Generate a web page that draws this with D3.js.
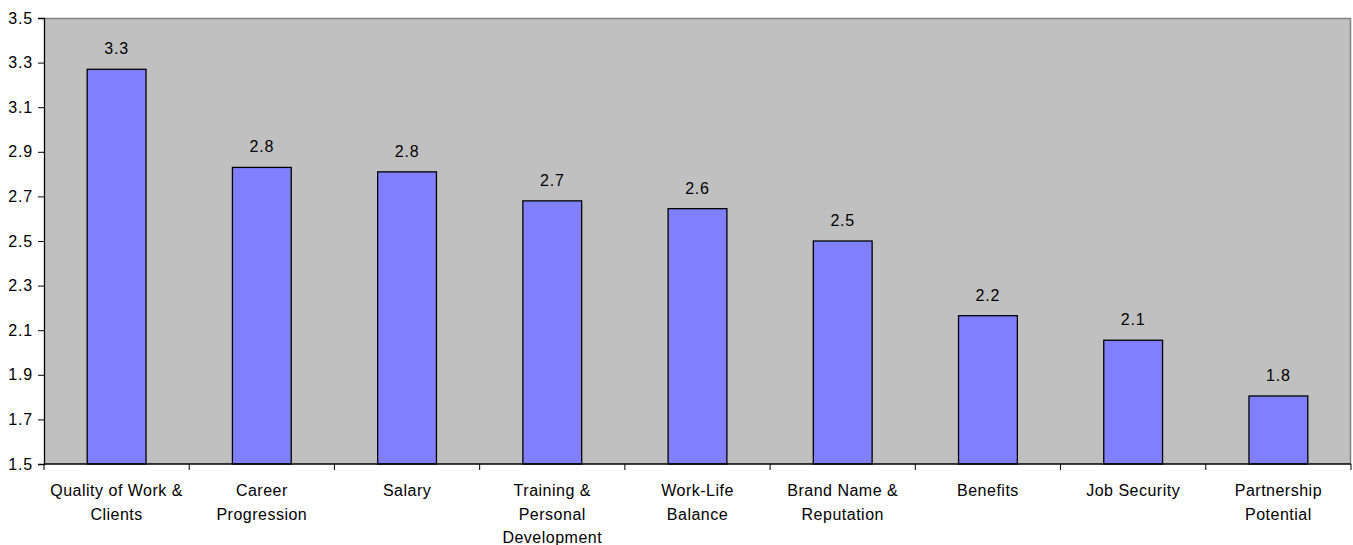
<!DOCTYPE html>
<html>
<head>
<meta charset="utf-8">
<script src="https://cdn.jsdelivr.net/npm/d3@7"></script>
<style>
  html, body { margin: 0; padding: 0; background: #fff; }
  text { font-family: "Liberation Sans", Arial, sans-serif; fill: #000; }
</style>
</head>
<body>
<svg id="chart" width="1353" height="545"></svg>
<script>
// Average rating per factor
const categories = [
  ["Quality of Work &", "Clients"],
  ["Career", "Progression"],
  ["Salary"],
  ["Training &", "Personal", "Development"],
  ["Work-Life", "Balance"],
  ["Brand Name &", "Reputation"],
  ["Benefits"],
  ["Job Security"],
  ["Partnership", "Potential"]
];
const values = [3.27, 2.83, 2.81, 2.68, 2.645, 2.50, 2.165, 2.055, 1.805];
const yTicks = [1.5, 1.7, 1.9, 2.1, 2.3, 2.5, 2.7, 2.9, 3.1, 3.3, 3.5];

const svg = d3.select("#chart");
const m = { left: 44, right: 1351, top: 18, bottom: 464 };
const FONT = 16;

const keys = categories.map((c, i) => i);
const x = d3.scaleBand().domain(keys).range([m.left, m.right]).paddingInner(0.595).paddingOuter(0.2975);
const y = d3.scaleLinear().domain([1.5, 3.5]).range([m.bottom, m.top]);
const fmt = d => (Math.round(d * 10 + 1e-9) / 10).toFixed(1);

// Plot area background
svg.append("rect")
  .attr("x", m.left).attr("y", m.top)
  .attr("width", m.right - m.left).attr("height", m.bottom - m.top)
  .attr("fill", "#c0c0c0");

// Top and right frame
svg.append("path")
  .attr("d", `M${m.left},${m.top + 0.5}H${m.right - 0.5}V${m.bottom}`)
  .attr("fill", "none").attr("stroke", "#808080").attr("stroke-width", 1.5);

// Bars
svg.append("g").selectAll("rect")
  .data(values)
  .join("rect")
  .attr("x", (d, i) => x(i))
  .attr("y", d => y(d))
  .attr("width", x.bandwidth())
  .attr("height", d => y(1.5) - y(d))
  .attr("fill", "#8080ff")
  .attr("stroke", "#000")
  .attr("stroke-width", 1.3);

// Value labels
svg.append("g").selectAll("text")
  .data(values)
  .join("text")
  .attr("x", (d, i) => x(i) + x.bandwidth() / 2)
  .attr("y", d => y(d) - 15)
  .attr("text-anchor", "middle")
  .attr("font-size", FONT)
  .attr("letter-spacing", 0.8)
  .text(d => fmt(d));

// Y axis
const yAxis = svg.append("g")
  .attr("transform", `translate(${m.left},0)`)
  .call(d3.axisLeft(y).tickValues(yTicks).tickFormat(d3.format(".1f")).tickSize(6).tickPadding(5));
yAxis.select(".domain").attr("stroke", "#000").attr("stroke-width", 1.3);
yAxis.selectAll(".tick line").attr("stroke", "#000");
yAxis.selectAll(".tick text")
  .attr("font-size", FONT)
  .attr("letter-spacing", 0.8)
  .attr("font-family", "Liberation Sans, Arial, sans-serif")
  .attr("fill", "#000");

// X axis: ticks at category boundaries
const bounds = d3.range(categories.length + 1).map(i => m.left + i * (m.right - m.left) / categories.length);
svg.append("line")
  .attr("x1", m.left).attr("x2", m.right)
  .attr("y1", m.bottom).attr("y2", m.bottom)
  .attr("stroke", "#000").attr("stroke-width", 1.3);
svg.append("g").selectAll("line")
  .data(bounds)
  .join("line")
  .attr("x1", d => d).attr("x2", d => d)
  .attr("y1", m.bottom).attr("y2", m.bottom + 6)
  .attr("stroke", "#000");

// Category labels
const lab = svg.append("g").selectAll("text")
  .data(categories)
  .join("text")
  .attr("text-anchor", "middle")
  .attr("font-size", FONT)
  .attr("letter-spacing", 0.5)
  .attr("transform", (d, i) => `translate(${x(i) + x.bandwidth() / 2},496)`);
lab.selectAll("tspan")
  .data(d => d)
  .join("tspan")
  .attr("x", 0)
  .attr("y", (d, j) => j * 23.5)
  .text(d => d);
</script>
</body>
</html>
